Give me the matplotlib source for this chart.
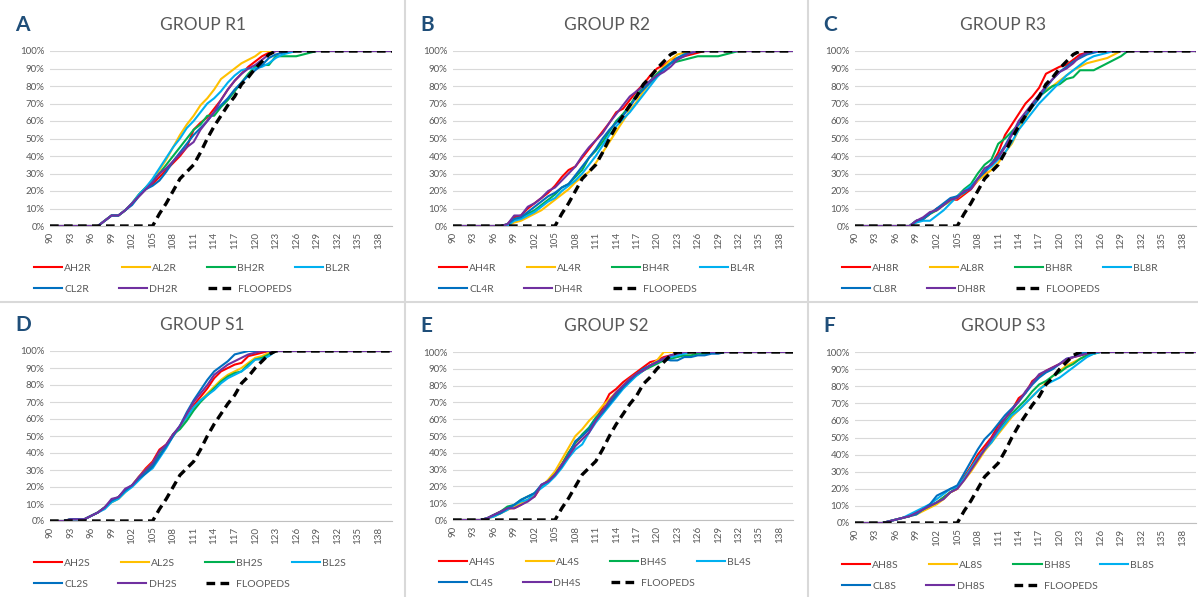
import matplotlib
matplotlib.use("Agg")
import matplotlib.pyplot as plt
from matplotlib.lines import Line2D
from matplotlib.ticker import FuncFormatter

plt.rcParams['font.family'] = ['Lato', 'DejaVu Sans']

ages = list(range(90, 141))
tick_ages = list(range(90, 139, 3))


def full(start, vals):
    # pad a read-off curve with 0% before its start and 100% after it tops out
    lead = start - ages[0]
    return [0] * lead + vals + [100] * (len(ages) - lead - len(vals))


floopeds = full(105, [0, 7, 13, 20, 27, 31, 35, 42, 50, 57, 63, 69, 74, 81, 85, 90, 94, 98, 100])

# group R1 (values from age 97)
r1_ah = full(97, [0, 3, 6, 6, 9, 13, 17, 21, 24, 28, 32, 36, 40, 45, 55, 59, 62, 67, 72, 78, 83, 87, 91, 94, 97, 99, 100])
r1_al = full(97, [0, 3, 6, 6, 9, 13, 18, 22, 26, 32, 38, 45, 52, 58, 63, 69, 73, 78, 84, 87, 90, 93, 95, 97, 100])
r1_bh = full(97, [0, 3, 6, 6, 9, 13, 18, 22, 26, 30, 35, 40, 45, 50, 55, 58, 63, 63, 68, 72, 77, 82, 87, 91, 92, 92, 97, 97, 97, 97, 98, 99, 100])
r1_bl = full(97, [0, 3, 6, 6, 9, 13, 18, 22, 27, 33, 39, 45, 50, 56, 60, 65, 70, 73, 77, 82, 86, 89, 90, 90, 91, 93, 96, 98, 99, 100])
r1_cl = full(97, [0, 3, 6, 6, 9, 12, 17, 21, 23, 26, 31, 37, 42, 47, 52, 56, 60, 65, 69, 73, 78, 82, 86, 89, 92, 96, 98, 99, 100])
r1_dh = full(97, [0, 3, 6, 6, 9, 13, 17, 21, 25, 30, 33, 37, 41, 45, 48, 55, 60, 65, 72, 78, 83, 87, 90, 92, 95, 98, 100])

# group R2 (values from age 97)
r2_ah = full(97, [0, 1, 5, 6, 10, 13, 16, 19, 23, 28, 32, 34, 39, 44, 49, 54, 59, 65, 67, 72, 77, 81, 86, 90, 92, 95, 96, 97, 98, 99, 100])
r2_al = full(97, [0, 0, 2, 3, 5, 7, 9, 12, 15, 18, 21, 25, 28, 31, 36, 42, 48, 54, 60, 66, 71, 77, 82, 87, 91, 95, 98, 99, 100])
r2_bh = full(97, [0, 1, 4, 5, 7, 9, 12, 15, 18, 22, 24, 28, 32, 39, 43, 48, 54, 60, 64, 69, 75, 79, 83, 87, 90, 93, 94, 95, 96, 97, 97, 97, 97, 98, 99, 100])
r2_bl = full(97, [0, 0, 3, 4, 6, 8, 11, 14, 16, 20, 23, 26, 30, 35, 40, 46, 52, 57, 61, 65, 70, 75, 80, 85, 89, 93, 96, 98, 99, 100])
r2_cl = full(97, [0, 1, 4, 5, 8, 11, 14, 17, 19, 22, 24, 29, 34, 39, 44, 50, 55, 59, 63, 68, 74, 78, 82, 86, 90, 93, 96, 98, 99, 100])
r2_dh = full(97, [0, 1, 6, 6, 11, 13, 16, 20, 22, 26, 30, 34, 40, 45, 49, 53, 59, 64, 69, 74, 77, 80, 83, 86, 88, 91, 95, 97, 99, 100])

# group R3 (values from age 97)
r3_ah = full(97, [0, 0, 3, 4, 7, 10, 12, 15, 15, 18, 21, 26, 30, 35, 42, 52, 58, 64, 70, 74, 79, 87, 89, 91, 92, 95, 98, 99, 100])
r3_al = full(97, [0, 0, 2, 4, 7, 9, 12, 14, 16, 19, 22, 26, 29, 32, 36, 42, 47, 55, 62, 68, 74, 78, 80, 83, 86, 89, 91, 93, 94, 95, 96, 98, 100])
r3_bh = full(97, [0, 0, 3, 4, 7, 9, 12, 15, 17, 21, 24, 30, 35, 38, 47, 50, 54, 58, 63, 69, 74, 77, 80, 81, 84, 85, 89, 89, 89, 91, 93, 95, 97, 100])
r3_bl = full(97, [0, 0, 2, 3, 3, 6, 9, 13, 17, 20, 23, 27, 31, 34, 38, 42, 48, 55, 60, 65, 70, 74, 78, 82, 86, 89, 92, 95, 97, 98, 99, 100])
r3_cl = full(97, [0, 0, 3, 4, 7, 10, 13, 16, 17, 19, 22, 27, 31, 36, 40, 46, 53, 58, 63, 68, 73, 79, 84, 88, 91, 94, 96, 98, 99, 100])
r3_dh = full(97, [0, 0, 3, 5, 8, 9, 12, 15, 16, 20, 21, 27, 33, 35, 39, 45, 52, 60, 65, 70, 75, 80, 84, 88, 90, 93, 97, 99, 100])

# group S1 (values from age 92)
s1_ah = full(92, [0, 1, 1, 1, 3, 5, 8, 12, 14, 18, 21, 26, 31, 35, 42, 45, 51, 55, 61, 68, 73, 78, 84, 88, 90, 92, 93, 97, 98, 99, 100])
s1_al = full(92, [0, 1, 1, 1, 3, 5, 8, 11, 13, 17, 21, 26, 30, 34, 40, 44, 50, 55, 60, 66, 71, 75, 79, 83, 86, 88, 90, 93, 96, 97, 99, 100])
s1_bh = full(92, [0, 1, 1, 1, 3, 5, 8, 12, 14, 18, 21, 25, 29, 33, 39, 44, 51, 54, 59, 65, 70, 74, 78, 82, 85, 87, 88, 92, 95, 96, 98, 100])
s1_bl = full(92, [0, 1, 1, 1, 3, 5, 7, 11, 13, 17, 20, 24, 28, 31, 37, 43, 50, 56, 61, 67, 71, 74, 77, 81, 84, 86, 88, 91, 95, 95, 97, 100])
s1_cl = full(92, [0, 1, 1, 1, 3, 5, 8, 12, 14, 18, 21, 25, 28, 32, 38, 44, 50, 56, 64, 71, 77, 83, 88, 91, 94, 98, 99, 100])
s1_dh = full(92, [0, 1, 1, 1, 3, 5, 8, 13, 14, 19, 21, 26, 30, 34, 41, 45, 51, 56, 63, 70, 75, 80, 86, 89, 92, 94, 96, 98, 99, 100])

# group S2 (values from age 93)
s2_ah = full(93, [0, 0, 1, 3, 5, 7, 7, 9, 12, 14, 20, 23, 27, 33, 40, 46, 50, 54, 60, 67, 75, 78, 82, 85, 88, 91, 94, 95, 97, 98, 99, 100])
s2_al = full(93, [0, 0, 1, 2, 4, 6, 8, 10, 12, 15, 20, 24, 29, 36, 43, 50, 54, 59, 63, 68, 72, 76, 80, 84, 87, 89, 92, 95, 100])
s2_bh = full(93, [0, 0, 1, 3, 5, 8, 9, 12, 14, 16, 20, 23, 27, 33, 40, 46, 51, 55, 61, 65, 70, 75, 79, 83, 86, 89, 91, 93, 95, 96, 97, 98, 98, 99, 99, 100])
s2_bl = full(93, [0, 0, 1, 2, 4, 6, 9, 11, 12, 16, 19, 22, 26, 31, 37, 42, 45, 52, 58, 63, 68, 73, 78, 82, 86, 89, 92, 94, 96, 97, 98, 99, 100])
s2_cl = full(93, [0, 0, 1, 3, 4, 7, 9, 12, 14, 16, 21, 23, 27, 32, 39, 47, 50, 54, 60, 64, 69, 74, 79, 83, 87, 90, 92, 94, 96, 95, 95, 97, 97, 98, 98, 99, 99, 100])
s2_dh = full(93, [0, 0, 1, 3, 5, 7, 7, 9, 11, 14, 21, 23, 27, 33, 38, 44, 48, 52, 59, 65, 71, 76, 80, 84, 87, 89, 92, 94, 96, 98, 99, 100])

# group S3 (values from age 93)
s3_ah = full(93, [0, 0, 1, 2, 3, 4, 6, 8, 10, 12, 15, 18, 20, 27, 33, 40, 45, 50, 57, 61, 66, 73, 76, 83, 86, 89, 91, 93, 95, 97, 98, 99, 100])
s3_al = full(93, [0, 0, 1, 2, 3, 4, 5, 7, 9, 11, 14, 18, 20, 25, 30, 36, 42, 47, 52, 57, 62, 66, 70, 74, 78, 82, 86, 89, 92, 94, 96, 98, 99, 100])
s3_bh = full(93, [0, 0, 1, 2, 3, 4, 6, 8, 10, 12, 15, 18, 21, 26, 32, 38, 43, 48, 54, 59, 64, 68, 72, 77, 81, 83, 86, 88, 91, 93, 96, 98, 99, 100])
s3_bl = full(93, [0, 0, 1, 2, 3, 5, 7, 9, 11, 14, 17, 20, 21, 26, 32, 38, 43, 47, 53, 58, 63, 66, 70, 74, 78, 81, 83, 85, 88, 91, 94, 97, 99, 100])
s3_cl = full(93, [0, 0, 1, 2, 3, 4, 5, 8, 11, 16, 18, 20, 22, 29, 36, 43, 49, 53, 58, 63, 67, 71, 76, 81, 85, 88, 90, 93, 96, 97, 99, 100])
s3_dh = full(93, [0, 0, 1, 2, 3, 4, 6, 8, 10, 12, 14, 18, 20, 25, 31, 37, 43, 49, 55, 61, 66, 71, 77, 82, 87, 89, 91, 93, 96, 97, 98, 99, 100])

colors = ['#FF0000', '#FFC000', '#00B050', '#00B0F0', '#0070C0', '#7030A0']
prefixes = ['AH', 'AL', 'BH', 'BL', 'CL', 'DH']

panels = [
    ('A', 'GROUP R1', '2R', [r1_ah, r1_al, r1_bh, r1_bl, r1_cl, r1_dh]),
    ('B', 'GROUP R2', '4R', [r2_ah, r2_al, r2_bh, r2_bl, r2_cl, r2_dh]),
    ('C', 'GROUP R3', '8R', [r3_ah, r3_al, r3_bh, r3_bl, r3_cl, r3_dh]),
    ('D', 'GROUP S1', '2S', [s1_ah, s1_al, s1_bh, s1_bl, s1_cl, s1_dh]),
    ('E', 'GROUP S2', '4S', [s2_ah, s2_al, s2_bh, s2_bl, s2_cl, s2_dh]),
    ('F', 'GROUP S3', '8S', [s3_ah, s3_al, s3_bh, s3_bl, s3_cl, s3_dh]),
]

W, H = 1198, 597
fig = plt.figure(figsize=(W / 100, H / 100), dpi=100)
fig.patch.set_facecolor('white')

# pixel boxes: (left, right, top, bottom) of plot area, chart left/right edges
boxes = [
    (50, 392, 51, 226, 0, 405),
    (453, 793, 51, 226, 405, 808),
    (855, 1196, 51, 226, 808, 1198),
    (50, 392, 351, 521, 0, 405),
    (453, 793, 352, 520, 405, 808),
    (855, 1196, 352, 523, 808, 1198),
]
grey = '#595959'

for (letter, title, suffix, series), (l, r, t, b, cl, cr) in zip(panels, boxes):
    ax = fig.add_axes([l / W, 1 - b / H, (r - l) / W, (b - t) / H])
    for vals, c, p in zip(series, colors, prefixes):
        ax.plot(ages, vals, color=c, lw=1.5, label=p + suffix)
    ax.plot(ages, floopeds, color='black', lw=2.4, ls=(0, (2.6, 1.6)), label='FLOOPEDS')

    ax.set_xlim(90, 140)
    ax.set_ylim(0, 100)
    ax.set_yticks(range(0, 101, 10))
    ax.yaxis.set_major_formatter(FuncFormatter(lambda v, _: f'{v:.0f}%'))
    ax.set_xticks(tick_ages)
    ax.set_xticklabels([str(a) for a in tick_ages], rotation=90)
    ax.tick_params(length=0, labelsize=7, colors=grey, pad=4)
    ax.grid(axis='y', color='#D9D9D9', lw=0.8)
    ax.set_axisbelow(True)
    for s in ['top', 'right', 'left']:
        ax.spines[s].set_visible(False)
    ax.spines['bottom'].set_color('#BFBFBF')
    ax.spines['bottom'].set_linewidth(0.8)

    fig.text((cl + cr) / 2 / W, 1 - (t - 26) / H, title, ha='center', va='center',
             fontsize=12.5, color=grey)
    fig.text((cl + 15) / W, 1 - (t - 26) / H, letter, ha='left', va='center',
             fontsize=15, fontweight='bold', color='#1F4E79')

    # two legend rows (4 + 3 entries) laid out like Excel's row-wise legend
    handles, labels = ax.get_legend_handles_labels()
    rows = [(handles[:4], labels[:4], b + 42), (handles[4:], labels[4:], b + 63)]
    for hs, ls, yc in rows:
        leg = fig.legend(hs, ls, loc='center left', bbox_to_anchor=((cl + 34) / W, 1 - yc / H),
                         ncol=len(hs), frameon=False, fontsize=7.5, handlelength=2.7,
                         handletextpad=0.2, columnspacing=2.9, borderpad=0, borderaxespad=0)
        for txt in leg.get_texts():
            txt.set_color(grey)

# light separators between the six charts
for x in [405, 808]:
    fig.add_artist(Line2D([x / W, x / W], [0, 1], transform=fig.transFigure, color='#D9D9D9', lw=1.5))
fig.add_artist(Line2D([0, 1], [1 - 302 / H, 1 - 302 / H], transform=fig.transFigure, color='#D9D9D9', lw=1.5))

fig.savefig('out.png', dpi=100)
